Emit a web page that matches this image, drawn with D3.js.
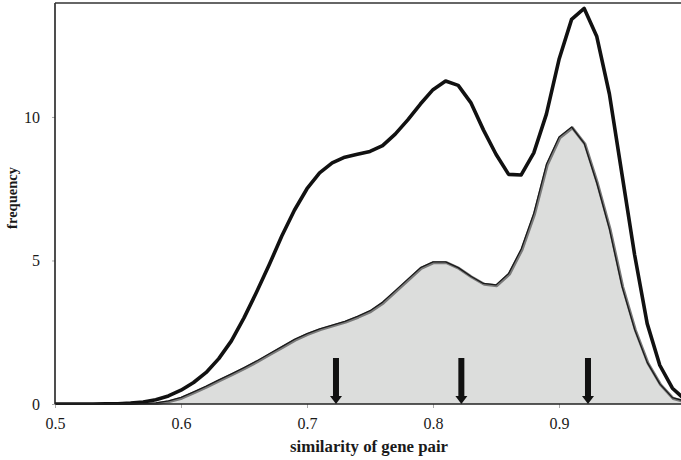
<!DOCTYPE html>
<html><head><meta charset="utf-8">
<script src="https://cdn.jsdelivr.net/npm/d3@7"></script>
<style>body{margin:0;background:#fff}svg{display:block}text{font-family:"Liberation Serif","Times New Roman",serif}</style>
</head><body>
<svg id="chart" width="681" height="460"></svg>
<script>
const similarity = [0.50,0.51,0.52,0.53,0.54,0.55,0.56,0.57,0.58,0.59,0.60,0.61,0.62,0.63,0.64,0.65,0.66,0.67,0.68,0.69,0.70,0.71,0.72,0.73,0.74,0.75,0.76,0.77,0.78,0.79,0.80,0.81,0.82,0.83,0.84,0.85,0.86,0.87,0.88,0.89,0.90,0.91,0.92,0.93,0.94,0.95,0.96,0.97,0.98,0.99,1.00];
const allPairs = [0,0,0,0,0.005,0.01,0.03,0.07,0.15,0.28,0.48,0.75,1.1,1.58,2.2,3.0,3.9,4.85,5.85,6.75,7.5,8.05,8.4,8.6,8.7,8.8,9.0,9.4,9.9,10.45,10.95,11.25,11.1,10.5,9.55,8.7,8.0,7.98,8.75,10.1,12.0,13.4,13.78,12.8,10.8,8.0,5.2,2.8,1.35,0.55,0.15];
const subsetPairs = [0,0,0,0,0,0,0.005,0.01,0.04,0.11,0.23,0.42,0.62,0.84,1.05,1.27,1.5,1.75,2.0,2.25,2.45,2.62,2.75,2.88,3.05,3.25,3.55,3.95,4.35,4.75,4.95,4.95,4.75,4.45,4.2,4.15,4.55,5.4,6.65,8.35,9.3,9.65,9.08,7.7,6.1,4.1,2.6,1.45,0.7,0.22,0.1];
const arrowsAt = [0.723, 0.8225, 0.923];
const xTicks = [0.5,0.6,0.7,0.8,0.9];
const yTicks = [0,5,10];

const svg = d3.select("#chart");
const mLeft = 55, mRight = 681, mTop = 3, mBottom = 404;
const x = d3.scaleLinear().domain([0.5,1.0]).range([mLeft, mLeft + 630]);
const y = d3.scaleLinear().domain([0,13.97]).range([mBottom, mTop]);

svg.append("defs").append("clipPath").attr("id","clip")
  .append("rect").attr("x",mLeft).attr("y",0).attr("width",mRight-mLeft).attr("height",mBottom+1);

const g = svg.append("g").attr("clip-path","url(#clip)");

const area = d3.area().x((d,i)=>x(similarity[i])).y0(y(0)).y1(d=>y(d));
const line = d3.line().x((d,i)=>x(similarity[i])).y(d=>y(d));

g.append("path").datum(subsetPairs).attr("d",area).attr("fill","#dcdddc");
g.append("path").datum(subsetPairs).attr("d",line).attr("fill","none")
  .attr("stroke","#7a7a7a").attr("stroke-width",3).attr("transform","translate(0.8,0.8)").attr("stroke-linejoin","round");
g.append("path").datum(subsetPairs).attr("d",line).attr("fill","none")
  .attr("stroke","#1a1a1a").attr("stroke-width",1.3).attr("stroke-linejoin","round");
g.append("path").datum(allPairs).attr("d",line).attr("fill","none")
  .attr("stroke","#111").attr("stroke-width",3.6).attr("stroke-linejoin","round");

// axes
const xAxis = d3.axisBottom(x).tickValues(xTicks).tickSize(4).tickFormat(d3.format(".1f"));
const xg = svg.append("g").attr("transform",`translate(0,${mBottom})`).call(xAxis);
xg.attr("font-family",null);
xg.select(".domain").remove();
xg.selectAll(".tick line").attr("stroke","#aaa");
xg.selectAll(".tick text").style("font-family","'Liberation Serif', serif").style("font-size","16px").attr("fill","#1a1a1a").attr("y",14);

const yAxis = d3.axisLeft(y).tickValues(yTicks).tickSize(3);
const yg = svg.append("g").attr("transform",`translate(${mLeft},0)`).call(yAxis);
yg.attr("font-family",null);
yg.select(".domain").remove();
yg.selectAll(".tick line").attr("stroke","#aaa");
yg.selectAll(".tick text").style("font-family","'Liberation Serif', serif").style("font-size","16px").attr("fill","#1a1a1a").attr("x",-15);

// frame lines
svg.append("line").attr("x1",mLeft).attr("x2",mRight).attr("y1",mBottom).attr("y2",mBottom).attr("stroke","#222").attr("stroke-width",1.6);
svg.append("line").attr("x1",mLeft).attr("x2",mLeft).attr("y1",mTop).attr("y2",mBottom).attr("stroke","#222").attr("stroke-width",1.6);
svg.append("line").attr("x1",mLeft).attr("x2",mRight).attr("y1",mTop).attr("y2",mTop).attr("stroke","#333").attr("stroke-width",1.6);

// arrows
arrowsAt.forEach(v => {
  const ax = x(v);
  svg.append("rect").attr("x",ax-3).attr("y",358).attr("width",6).attr("height",38).attr("fill","#111");
  svg.append("path").attr("d",`M${ax-6},${396}L${ax+6},${396}L${ax},${404}Z`).attr("fill","#111");
});

// titles
svg.append("text").attr("x",369).attr("y",452).attr("text-anchor","middle")
  .style("font-family","'Liberation Serif', serif").attr("font-weight","bold").attr("font-size",16.8).attr("fill","#1a1a1a")
  .text("similarity of gene pair");
svg.append("text").attr("transform","translate(17,198) rotate(-90)").attr("text-anchor","middle")
  .style("font-family","'Liberation Serif', serif").attr("font-weight","bold").attr("font-size",14.5).attr("fill","#1a1a1a")
  .text("frequency");
</script>
</body></html>
